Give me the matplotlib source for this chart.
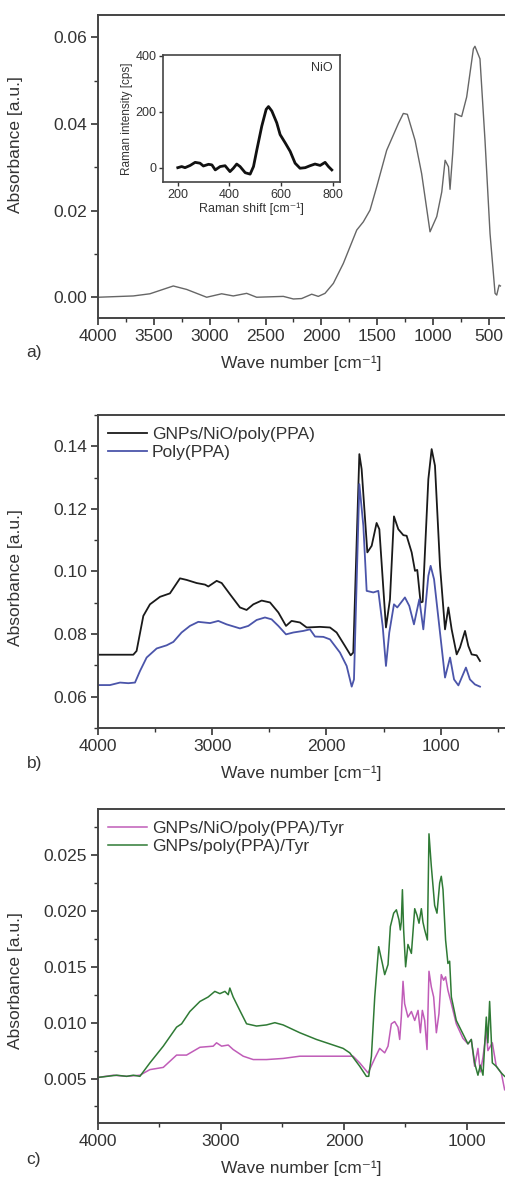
#!/usr/bin/env python3
"""FTIR / Raman three-panel figure (a, b, c)."""

import matplotlib

matplotlib.use("Agg")
import matplotlib.pyplot as plt
from matplotlib.ticker import MultipleLocator, FormatStrFormatter

# ---- panel a: FTIR of NiO ----
A_WN = [4000, 3684, 3535, 3326, 3206, 3027, 2893, 2789, 2669, 2580, 2341, 2251,
        2177, 2087, 2028, 1968, 1893, 1804, 1684, 1625, 1565, 1505, 1416, 1311,
        1267, 1231, 1162, 1103, 1028, 968, 923, 893, 863, 849, 825, 804, 774,
        745, 700, 640, 626, 581, 536, 491, 446, 431, 410, 398]
A_ABS = [0.0000, 0.0003, 0.0008, 0.0026, 0.0018, 0.0000, 0.0008, 0.0003, 0.0009,
         0.0000, 0.0002, -0.0004, -0.0003, 0.0007, 0.0002, 0.0009, 0.0032, 0.0078,
         0.0155, 0.0174, 0.0201, 0.0255, 0.0339, 0.0401, 0.0424, 0.0422, 0.0362,
         0.0285, 0.0151, 0.0186, 0.0243, 0.0316, 0.0301, 0.0249, 0.0332, 0.0424,
         0.0420, 0.0417, 0.0462, 0.0573, 0.0579, 0.0550, 0.0362, 0.0147, 0.0009,
         0.0005, 0.0028, 0.0026]

# ---- inset: Raman of NiO ----
R_SHIFT = [200, 215, 228, 248, 267, 286, 299, 319, 332, 345, 364, 383, 402, 415,
           428, 441, 461, 480, 493, 506, 525, 542, 551, 564, 583, 596, 616, 635,
           654, 673, 693, 712, 731, 751, 770, 783, 796]
R_INT = [0, 4, 0, 8, 19, 16, 6, 12, 10, -8, 4, 7, -14, -2, 13, 4, -18, -23, 4,
         64, 148, 208, 218, 202, 160, 118, 88, 58, 16, -2, 0, 7, 13, 8, 19, 4, -8]

# ---- panel b ----
B_WN_1 = [4000, 3691, 3662, 3603, 3545, 3457, 3370, 3326, 3282, 3224, 3136, 3063,
          3034, 2961, 2917, 2844, 2757, 2699, 2640, 2567, 2494, 2421, 2354, 2305,
          2232, 2173, 2057, 1969, 1911, 1838, 1788, 1765, 1712, 1692, 1642, 1604,
          1561, 1537, 1479, 1444, 1409, 1371, 1327, 1298, 1254, 1225, 1205, 1176,
          1158, 1108, 1079, 1050, 1006, 962, 933, 904, 860, 831, 787, 758, 729,
          685, 656]
B_ABS_1 = [0.0734, 0.0734, 0.0746, 0.0858, 0.0895, 0.0919, 0.0930, 0.0954, 0.0978,
           0.0973, 0.0963, 0.0958, 0.0952, 0.0970, 0.0963, 0.0927, 0.0885, 0.0877,
           0.0895, 0.0907, 0.0901, 0.0869, 0.0826, 0.0842, 0.0837, 0.0821, 0.0823,
           0.0821, 0.0805, 0.0762, 0.0732, 0.0741, 0.1375, 0.1327, 0.1061, 0.1082,
           0.1155, 0.1135, 0.0821, 0.0911, 0.1176, 0.1135, 0.1116, 0.1114, 0.1061,
           0.1002, 0.1005, 0.0901, 0.0903, 0.1295, 0.1391, 0.1338, 0.1018, 0.0815,
           0.0885, 0.0815, 0.0735, 0.0757, 0.0810, 0.0762, 0.0735, 0.0732, 0.0714]
B_WN_2 = [4000, 3895, 3807, 3734, 3676, 3632, 3574, 3486, 3399, 3340, 3268, 3195,
          3122, 3019, 2947, 2874, 2757, 2684, 2611, 2538, 2480, 2421, 2354, 2290,
          2203, 2144, 2100, 2027, 1969, 1882, 1823, 1779, 1759, 1712, 1677, 1648,
          1590, 1546, 1508, 1479, 1450, 1409, 1380, 1313, 1275, 1234, 1187, 1152,
          1108, 1088, 1058, 1006, 962, 918, 883, 845, 779, 744, 700, 656]
B_ABS_2 = [0.0637, 0.0637, 0.0645, 0.0643, 0.0645, 0.0682, 0.0725, 0.0754, 0.0764,
           0.0775, 0.0805, 0.0826, 0.0839, 0.0835, 0.0842, 0.0831, 0.0818, 0.0826,
           0.0845, 0.0853, 0.0847, 0.0826, 0.0799, 0.0805, 0.0810, 0.0815, 0.0792,
           0.0791, 0.0783, 0.0741, 0.0698, 0.0632, 0.0655, 0.1279, 0.1146, 0.0938,
           0.0933, 0.0938, 0.0826, 0.0698, 0.0805, 0.0895, 0.0885, 0.0917, 0.0890,
           0.0831, 0.0911, 0.0815, 0.0986, 0.1018, 0.0975, 0.0805, 0.0661, 0.0725,
           0.0655, 0.0636, 0.0693, 0.0655, 0.0639, 0.0632]
B_LABELS = ["GNPs/NiO/poly(PPA)", "Poly(PPA)"]

# ---- panel c ----
C_WN_1 = [4000, 3875, 3767, 3659, 3578, 3469, 3361, 3280, 3171, 3063, 3036, 2995,
          2941, 2901, 2819, 2738, 2630, 2495, 2359, 2224, 2088, 1980, 1926, 1872,
          1804, 1750, 1710, 1669, 1642, 1615, 1588, 1561, 1547, 1534, 1520, 1507,
          1480, 1452, 1425, 1398, 1379, 1363, 1344, 1325, 1309, 1290, 1271, 1249,
          1228, 1209, 1190, 1174, 1155, 1127, 1087, 1033, 992, 965, 938, 911, 892,
          870, 843, 830, 794, 762, 721, 694]
C_ABS_1 = [0.0051, 0.0053, 0.0052, 0.0053, 0.0058, 0.0060, 0.0071, 0.0071, 0.0078,
           0.0079, 0.0082, 0.0079, 0.0080, 0.0076, 0.0070, 0.0067, 0.0067, 0.0068,
           0.0070, 0.0070, 0.0070, 0.0070, 0.0070, 0.0064, 0.0055, 0.0068, 0.0077,
           0.0073, 0.0079, 0.0099, 0.0101, 0.0096, 0.0085, 0.0105, 0.0137, 0.0117,
           0.0105, 0.0110, 0.0102, 0.0111, 0.0091, 0.0111, 0.0102, 0.0076, 0.0146,
           0.0132, 0.0123, 0.0091, 0.0108, 0.0143, 0.0138, 0.0141, 0.0129, 0.0117,
           0.0099, 0.0086, 0.0081, 0.0085, 0.0061, 0.0077, 0.0056, 0.0069, 0.0093,
           0.0075, 0.0082, 0.0061, 0.0055, 0.0040]
C_WN_2 = [4000, 3848, 3767, 3713, 3659, 3578, 3469, 3361, 3320, 3253, 3171, 3104,
          3050, 3009, 2968, 2941, 2928, 2901, 2847, 2792, 2711, 2630, 2562, 2495,
          2359, 2224, 2088, 2007, 1953, 1872, 1818, 1799, 1777, 1750, 1718, 1688,
          1669, 1642, 1623, 1596, 1574, 1553, 1542, 1534, 1525, 1515, 1499, 1480,
          1452, 1425, 1406, 1390, 1371, 1358, 1344, 1322, 1309, 1290, 1276, 1263,
          1244, 1222, 1209, 1195, 1174, 1155, 1141, 1127, 1087, 1033, 992, 965,
          938, 911, 892, 870, 843, 830, 816, 794, 762, 721, 694]
C_ABS_2 = [0.0051, 0.0053, 0.0052, 0.0053, 0.0052, 0.0064, 0.0079, 0.0096, 0.0099,
           0.0110, 0.0119, 0.0123, 0.0128, 0.0126, 0.0128, 0.0125, 0.0131, 0.0123,
           0.0111, 0.0099, 0.0097, 0.0098, 0.0100, 0.0098, 0.0091, 0.0085, 0.0080,
           0.0077, 0.0073, 0.0061, 0.0052, 0.0052, 0.0070, 0.0123, 0.0168, 0.0153,
           0.0143, 0.0152, 0.0186, 0.0198, 0.0201, 0.0192, 0.0183, 0.0190, 0.0219,
           0.0183, 0.0150, 0.0170, 0.0162, 0.0202, 0.0196, 0.0189, 0.0202, 0.0190,
           0.0183, 0.0174, 0.0269, 0.0240, 0.0222, 0.0205, 0.0198, 0.0225, 0.0231,
           0.0219, 0.0174, 0.0153, 0.0155, 0.0123, 0.0102, 0.0090, 0.0081, 0.0085,
           0.0064, 0.0053, 0.0062, 0.0053, 0.0105, 0.0082, 0.0119, 0.0064, 0.0061,
           0.0055, 0.0052]
C_LABELS = ["GNPs/NiO/poly(PPA)/Tyr", "GNPs/poly(PPA)/Tyr"]

TEXT = "#333333"
SPINE = "#444444"
XLABEL = "Wave number [cm\u207b\u00b9]"

plt.rcParams.update({
    "font.family": ["Liberation Sans", "DejaVu Sans"],
    "font.size": 12.5,
    "text.color": TEXT,
    "axes.labelcolor": TEXT,
    "xtick.color": TEXT,
    "ytick.color": TEXT,
    "axes.edgecolor": SPINE,
    "axes.linewidth": 1.4,
})


def style_axis(ax, xlim, ylim, xmaj, xmin, ymaj, ymin, yfmt, ylab_y, label):
    ax.set_xlim(*xlim)
    ax.set_ylim(*ylim)
    ax.xaxis.set_major_locator(MultipleLocator(xmaj))
    ax.xaxis.set_minor_locator(MultipleLocator(xmin))
    ax.yaxis.set_major_locator(MultipleLocator(ymaj))
    ax.yaxis.set_minor_locator(MultipleLocator(ymin))
    ax.yaxis.set_major_formatter(FormatStrFormatter(yfmt))
    ax.tick_params(which="major", length=5, width=1.2, labelsize=12.5, pad=3)
    ax.tick_params(which="minor", length=3, width=1.0)
    ax.tick_params(axis="x", top=False)
    ax.tick_params(axis="y", right=False)
    ax.spines["right"].set_visible(False)
    ax.set_xlabel(XLABEL, labelpad=8)
    ax.set_ylabel("Absorbance [a.u.]")
    ax.yaxis.set_label_coords(-0.184, ylab_y)
    ax.text(-0.175, -0.115, label, transform=ax.transAxes, fontsize=12.5,
            ha="left", va="center")


def add_legend(ax):
    ax.legend(loc="upper left", bbox_to_anchor=(0.0, 0.995), frameon=False,
              handlelength=2.2, handletextpad=0.3, labelspacing=0.15,
              borderaxespad=0.2, fontsize=12.5)


fig = plt.figure(figsize=(5.05, 11.85), dpi=100)

# panel a
ax_a = fig.add_axes([0.194, 0.7316, 0.806, 0.2557])
ax_a.plot(A_WN, A_ABS, color="#666666", linewidth=1.0)
style_axis(ax_a, (4000, 357), (-0.0048, 0.0651), 500, 250, 0.02, 0.01,
           "%.2f", 0.574, "a)")

ax_in = fig.add_axes([0.3234, 0.8462, 0.35, 0.1074])
ax_in.plot(R_SHIFT, R_INT, color="#111111", linewidth=2.0)
ax_in.set_xlim(144, 828)
ax_in.set_ylim(-52, 402)
ax_in.set_xticks([200, 400, 600, 800])
ax_in.set_yticks([0, 200, 400])
ax_in.tick_params(labelsize=9, length=3, width=1.0, pad=2)
for sp in ax_in.spines.values():
    sp.set_linewidth(1.2)
ax_in.set_xlabel("Raman shift [cm\u207b\u00b9]", fontsize=9, labelpad=1)
ax_in.set_ylabel("Raman intensity [cps]", fontsize=8.5, labelpad=2)
ax_in.text(0.96, 0.9, "NiO", transform=ax_in.transAxes, fontsize=9,
           ha="right", va="center")

# panel b
ax_b = fig.add_axes([0.194, 0.3857, 0.806, 0.2641])
ax_b.plot(B_WN_1, B_ABS_1, color="#1a1a1a", linewidth=1.3, label=B_LABELS[0])
ax_b.plot(B_WN_2, B_ABS_2, color="#4b55aa", linewidth=1.3, label=B_LABELS[1])
style_axis(ax_b, (4000, 437), (0.050, 0.150), 1000, 500, 0.02, 0.01,
           "%.2f", 0.479, "b)")
add_legend(ax_b)

# panel c
ax_c = fig.add_axes([0.194, 0.0521, 0.806, 0.2650])
ax_c.plot(C_WN_1, C_ABS_1, color="#c05cb8", linewidth=1.1, label=C_LABELS[0])
ax_c.plot(C_WN_2, C_ABS_2, color="#2f7a35", linewidth=1.1, label=C_LABELS[1])
style_axis(ax_c, (4000, 691), (0.001, 0.0291), 1000, 500, 0.005, 0.0025,
           "%.3f", 0.455, "c)")
add_legend(ax_c)

fig.savefig("out.png", dpi=100, facecolor="white")
